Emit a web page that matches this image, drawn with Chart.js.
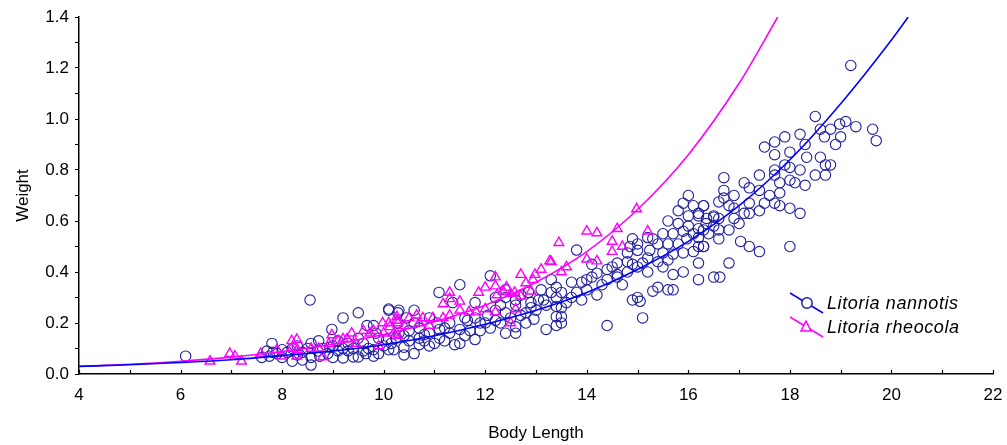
<!DOCTYPE html>
<html>
<head>
<meta charset="utf-8">
<script src="https://cdn.jsdelivr.net/npm/chart.js@4/dist/chart.umd.min.js"></script>
<style>
  html, body { margin: 0; padding: 0; background: #fff; }
  #wrap { width: 1007px; height: 445px; position: relative; }
</style>
</head>
<body>
<div id="wrap"><canvas id="c"></canvas></div>
<script>
'use strict';
// Weight vs Body Length — Litoria nannotis / Litoria rheocola, with fitted curves.

const X_TICKS = [4, 6, 8, 10, 12, 14, 16, 18, 20, 22];
const Y_TICKS = [0.0, 0.2, 0.4, 0.6, 0.8, 1.0, 1.2, 1.4];
const SPECIES = ['Litoria nannotis', 'Litoria rheocola'];

// observed points [body length, weight]
const nannotisPts = [
  [6.1,0.07],[7.6,0.065],[7.8,0.12],[7.82,0.085],[8.0,0.065],[8.2,0.05],[8.4,0.055],[8.57,0.035],[8.57,0.065],[8.4,0.085],
  [8.74,0.07],[8.57,0.12],[8.72,0.13],[8.94,0.105],[8.98,0.175],[9.0,0.065],[9.2,0.063],[9.4,0.067],[9.5,0.067],[9.65,0.08],
  [9.8,0.07],[9.8,0.095],[9.67,0.19],[9.8,0.19],[9.85,0.16],[9.6,0.12],[9.5,0.14],[9.3,0.12],[9.1,0.13],[10.1,0.095],
  [10.06,0.135],[10.24,0.14],[9.9,0.14],[10.28,0.2],[8.55,0.29],[9.2,0.22],[9.5,0.24],[10.1,0.25],[10.28,0.24],
  [7.75,0.07],[7.9,0.08],[8.1,0.085],[8.3,0.075],[8.2,0.1],[8.0,0.095],[8.5,0.1],[8.9,0.08],[9.1,0.09],[9.3,0.09],
  [9.7,0.1],[9.4,0.1],[8.8,0.1],[7.7,0.09],
  [8.3,0.11],[8.7,0.09],[9.0,0.11],[9.2,0.1],[9.6,0.09],[9.9,0.08],[10.0,0.11],[10.15,0.12],[10.5,0.13],[10.8,0.13],
  [11.0,0.12],[11.3,0.16],[11.7,0.17],[10.4,0.15],[10.7,0.14],[11.2,0.18],
  [10.2,0.095],[10.4,0.075],[10.4,0.105],[10.6,0.08],[10.7,0.115],[10.9,0.11],[10.8,0.155],[11.1,0.14],[11.2,0.13],[11.4,0.115],
  [11.5,0.12],[11.6,0.15],[11.8,0.135],[11.9,0.17],[10.6,0.25],[10.45,0.22],[10.3,0.25],[10.1,0.255],[11.05,0.2],[11.3,0.2],
  [11.5,0.175],[11.65,0.21],[11.8,0.22],[11.36,0.28],[11.6,0.22],[11.1,0.175],[10.5,0.17],[10.7,0.18],[10.9,0.16],[10.3,0.16],
  [10.6,0.2],[10.9,0.22],[11.09,0.32],[11.5,0.35],[12.1,0.385],
  [11.8,0.28],[12.2,0.3],[12.4,0.3],[12.7,0.31],[12.85,0.32],[13.05,0.29],[13.3,0.37],[13.3,0.32],[13.4,0.34],[13.15,0.29],
  [13.4,0.265],[13.4,0.225],[13.4,0.19],[13.2,0.175],[12.96,0.215],[12.8,0.2],[12.8,0.24],[12.6,0.185],[12.4,0.16],[12.6,0.16],
  [12.3,0.2],[12.1,0.18],[12.05,0.23],[12.0,0.2],[12.5,0.22],[12.2,0.25],[12.9,0.26],[12.6,0.27],[13.0,0.25],[12.3,0.27],
  [11.9,0.2],[12.2,0.21],[12.4,0.24],[12.7,0.23],[12.9,0.28],[13.2,0.27],[13.1,0.33],[12.6,0.29],[12.4,0.33],[13.6,0.28],
  [13.7,0.3],[14.3,0.35],[14.5,0.42],[14.8,0.44],[14.1,0.43],[15.2,0.4],[15.5,0.42],
  [13.8,0.486],[13.7,0.36],[13.9,0.36],[14.0,0.37],[14.1,0.38],[14.2,0.395],[14.4,0.41],[14.6,0.39],[14.8,0.4],[14.6,0.435],
  [15.0,0.42],[14.4,0.37],[14.7,0.35],[14.6,0.38],[13.8,0.32],[14.0,0.33],[14.2,0.31],[13.9,0.29],[13.5,0.32],[13.4,0.3],
  [13.5,0.26],[13.5,0.225],[13.5,0.2],[14.4,0.19],[15.1,0.22],[14.9,0.29],[15.0,0.3],[15.05,0.285],[14.9,0.53],[14.85,0.5],
  [15.0,0.51],[14.8,0.475],[15.0,0.485],[15.24,0.485],[15.3,0.53],[15.2,0.535],[15.4,0.51],[15.6,0.51],[15.5,0.55],[15.5,0.475],
  [15.7,0.47],[15.1,0.435],[14.9,0.43],[15.4,0.44],[15.6,0.447],[15.2,0.455],[15.7,0.39],[15.9,0.40],[15.7,0.33],[15.6,0.33],
  [15.4,0.34],[15.3,0.325],[16.2,0.435],[15.7,0.55],[15.9,0.56],[16.1,0.55],[16.3,0.565],[15.8,0.59],[15.8,0.51],[15.97,0.53],
  [16.2,0.5],[16.3,0.5],[16.1,0.48],[15.9,0.475],[16.0,0.70],[15.9,0.67],[16.1,0.66],[16.3,0.66],[15.8,0.64],[16.0,0.62],
  [16.2,0.62],[16.36,0.61],[16.5,0.62],[16.0,0.58],[16.6,0.53],[16.5,0.58],[17.0,0.59],[16.9,0.65],[16.2,0.57],[15.6,0.6],
  [19.2,1.21],[18.5,1.01],[19.3,0.97],[19.63,0.96],[19.7,0.915],[18.6,0.96],[18.8,0.96],[18.98,0.98],[19.1,0.99],[19.0,0.93],
  [18.9,0.90],[18.68,0.93],[18.2,0.94],[17.9,0.93],[17.7,0.91],[17.5,0.89],[17.7,0.86],[18.0,0.87],[18.3,0.90],[18.33,0.85],
  [18.6,0.85],[18.7,0.82],[18.8,0.82],[18.5,0.78],[18.7,0.78],[18.3,0.74],[18.2,0.80],[18.0,0.81],[17.9,0.82],[17.7,0.80],
  [17.7,0.78],[18.0,0.76],[18.1,0.75],[17.8,0.75],[17.8,0.71],[17.4,0.78],[17.1,0.75],[17.2,0.73],[17.4,0.72],[16.7,0.77],
  [16.7,0.72],[16.9,0.70],[16.7,0.69],[16.6,0.675],[16.8,0.66],[16.3,0.66],[16.2,0.63],[16.5,0.615],[16.6,0.61],[16.9,0.61],
  [16.35,0.59],[16.6,0.565],[16.8,0.565],[16.4,0.55],[16.2,0.535],[16.3,0.50],[17.2,0.67],[17.2,0.63],[17.1,0.63],[17.4,0.64],
  [17.5,0.67],[17.6,0.70],[17.8,0.66],[17.7,0.67],[18.0,0.65],[18.2,0.63],[17.03,0.52],[17.2,0.50],[17.4,0.48],[18.0,0.50],
  [16.8,0.435],[16.2,0.37],[16.5,0.38],[16.62,0.38]
];

const rheocolaPts = [
  [6.58,0.05],[6.97,0.08],[7.07,0.07],[7.2,0.05],[7.58,0.08],[7.9,0.095],[7.98,0.07],[8.19,0.13],[8.29,0.135],[8.19,0.10],
  [8.3,0.095],[8.29,0.07],[8.57,0.10],[8.72,0.10],[8.8,0.067],[8.92,0.118],[8.98,0.153],[9.1,0.13],[9.2,0.137],[9.28,0.137],
  [9.37,0.16],[9.45,0.12],[9.6,0.17],[9.73,0.16],[9.8,0.17],[9.9,0.11],[9.98,0.2],[10.0,0.16],[10.1,0.2],[10.2,0.16],
  [10.26,0.225],[10.28,0.2],[10.12,0.185],[10.26,0.21],[10.28,0.15],[10.4,0.19],[10.5,0.22],[10.65,0.23],[10.7,0.2],[10.77,0.22],
  [10.97,0.22],[10.9,0.19],[11.17,0.275],[11.3,0.32],[11.3,0.295],[11.5,0.285],[11.5,0.25],[11.3,0.23],[11.17,0.22],[11.68,0.243],
  [11.82,0.243],[12.0,0.255],[11.87,0.32],[12.0,0.34],[12.2,0.38],[12.2,0.345],[12.23,0.31],[12.35,0.325],[12.42,0.34],[12.5,0.315],
  [12.58,0.32],[12.7,0.305],[12.2,0.243],[12.6,0.255],[12.5,0.2],[12.7,0.39],[12.8,0.357],[12.94,0.37],[12.98,0.39],[12.9,0.325],
  [13.1,0.41],[13.3,0.44],[13.45,0.515],[13.27,0.443],[13.5,0.40],[13.6,0.42],[14.0,0.56],[14.2,0.553],[14.6,0.57],[14.98,0.647],
  [15.2,0.56],[14.5,0.52],[14.5,0.48],[14.7,0.50],[14.0,0.45],[14.2,0.443]
];

// fitted curves
const nannotisFitX = [4, 5, 6, 7, 8, 9, 10, 11, 12, 13, 14, 15, 16, 17, 18, 19, 20, 20.33];
const nannotisFitY = [0.03, 0.036, 0.045, 0.056, 0.072, 0.09, 0.115, 0.15, 0.195, 0.25, 0.32, 0.41, 0.52, 0.66, 0.84, 1.06, 1.31, 1.4];
const rheocolaFitX = [4, 5, 6, 7, 8, 9, 10, 11, 12, 13, 14, 15, 16, 17, 17.76];
const rheocolaFitY = [0.03, 0.038, 0.05, 0.066, 0.088, 0.117, 0.155, 0.205, 0.27, 0.36, 0.48, 0.645, 0.86, 1.14, 1.4];

const BLUE_PT = '#1f1f9e', BLUE_LN = '#0000ff', MAG = '#ff00ff';
const FONT = 'Arial, "Liberation Sans", sans-serif';
const toXY = a => a.map(p => ({ x: p[0], y: p[1] }));
const zip = (xs, ys) => xs.map((x, i) => ({ x, y: ys[i] }));

// x ticks point inward, legend drawn like the original (line through marker)
const extras = {
  id: 'extras',
  afterDraw(chart) {
    const { ctx, chartArea: a, scales: { x } } = chart;
    ctx.save();
    ctx.strokeStyle = '#000'; ctx.lineWidth = 1.2;
    for (let v = X_TICKS[0]; v <= X_TICKS[X_TICKS.length - 1]; v++) {
      const px = Math.round(x.getPixelForValue(v)) + 0.5;
      ctx.beginPath(); ctx.moveTo(px, a.bottom); ctx.lineTo(px, a.bottom - 4); ctx.stroke();
    }
    // legend
    const rows = [
      { y: 303, col: BLUE_LN, mk: BLUE_PT, style: 'circle', text: SPECIES[0] },
      { y: 327, col: MAG, mk: MAG, style: 'triangle', text: SPECIES[1] },
    ];
    rows.forEach(r => {
      ctx.strokeStyle = r.col; ctx.lineWidth = 1.5;
      ctx.beginPath(); ctx.moveTo(790, r.y - 10); ctx.lineTo(823, r.y + 10); ctx.stroke();
      ctx.fillStyle = '#fff';
      ctx.strokeStyle = r.mk;
      if (r.style === 'circle') {
        ctx.beginPath(); ctx.arc(807, r.y, 5.2, 0, Math.PI * 2); ctx.fill(); ctx.stroke();
      } else {
        ctx.beginPath(); ctx.moveTo(806, r.y - 6); ctx.lineTo(811, r.y + 4); ctx.lineTo(801, r.y + 4); ctx.closePath(); ctx.fill(); ctx.stroke();
      }
      ctx.fillStyle = '#000';
      ctx.font = 'italic 18px ' + FONT;
      ctx.letterSpacing = '0.6px';
      ctx.textBaseline = 'alphabetic';
      ctx.fillText(r.text, 827, r.y + 6);
    });
    ctx.restore();
  }
};

new Chart(document.getElementById('c'), {
  type: 'scatter',
  data: {
    datasets: [
      { label: SPECIES[0] + ' fit', data: zip(nannotisFitX, nannotisFitY), showLine: true, pointRadius: 0, borderColor: BLUE_LN, borderWidth: 1.6, cubicInterpolationMode: 'monotone', order: 0 },
      { label: SPECIES[1] + ' fit', data: zip(rheocolaFitX, rheocolaFitY), showLine: true, pointRadius: 0, borderColor: MAG, borderWidth: 1.6, cubicInterpolationMode: 'monotone', order: 0 },
      { label: SPECIES[0], data: toXY(nannotisPts), pointStyle: 'circle', pointRadius: 5.2, borderWidth: 1.1, borderColor: BLUE_PT, backgroundColor: 'rgba(0,0,0,0)', order: 2 },
      { label: SPECIES[1], data: toXY(rheocolaPts), pointStyle: 'triangle', pointRadius: 5.6, borderWidth: 1.4, borderColor: MAG, backgroundColor: 'rgba(0,0,0,0)', order: 1 },
    ]
  },
  options: {
    responsive: true, maintainAspectRatio: false, animation: false,
    layout: { padding: { left: 0, right: 14, top: 17, bottom: 0 } },
    plugins: { legend: { display: false }, tooltip: { enabled: false } },
    scales: {
      x: {
        type: 'linear', min: X_TICKS[0], max: X_TICKS[X_TICKS.length - 1],
        afterFit: s => { s.height = 71; s.paddingRight = 0; s.paddingLeft = 0; },
        afterBuildTicks: s => { s.ticks = X_TICKS.map(v => ({ value: v })); },
        border: { display: true, color: '#000', width: 1.5 },
        grid: { display: true, drawOnChartArea: false, drawTicks: false },
        ticks: { color: '#000', font: { family: FONT, size: 17 }, padding: 11, maxRotation: 0 },
        title: { display: true, text: 'Body Length', color: '#000', font: { family: FONT, size: 17 }, padding: { top: 0, bottom: 1 } },
      },
      y: {
        type: 'linear', min: 0, max: 1.4,
        afterFit: s => { s.width = 79; },
        afterBuildTicks: s => { s.ticks = Array.from({ length: 15 }, (_, i) => ({ value: i / 10 })); },
        border: { display: true, color: '#000', width: 1.5 },
        grid: { display: true, drawOnChartArea: false, drawTicks: true, tickLength: 4, color: '#000', lineWidth: 1 },
        ticks: { color: '#000', font: { family: FONT, size: 17 }, padding: 6,
          callback: v => (Math.round(v * 10) % 2 === 0 ? v.toFixed(1) : '') },
        title: { display: true, text: 'Weight', color: '#000', font: { family: FONT, size: 17 }, padding: { top: 13, bottom: 0 } },
      }
    }
  },
  plugins: [extras]
});
</script>
</body>
</html>
